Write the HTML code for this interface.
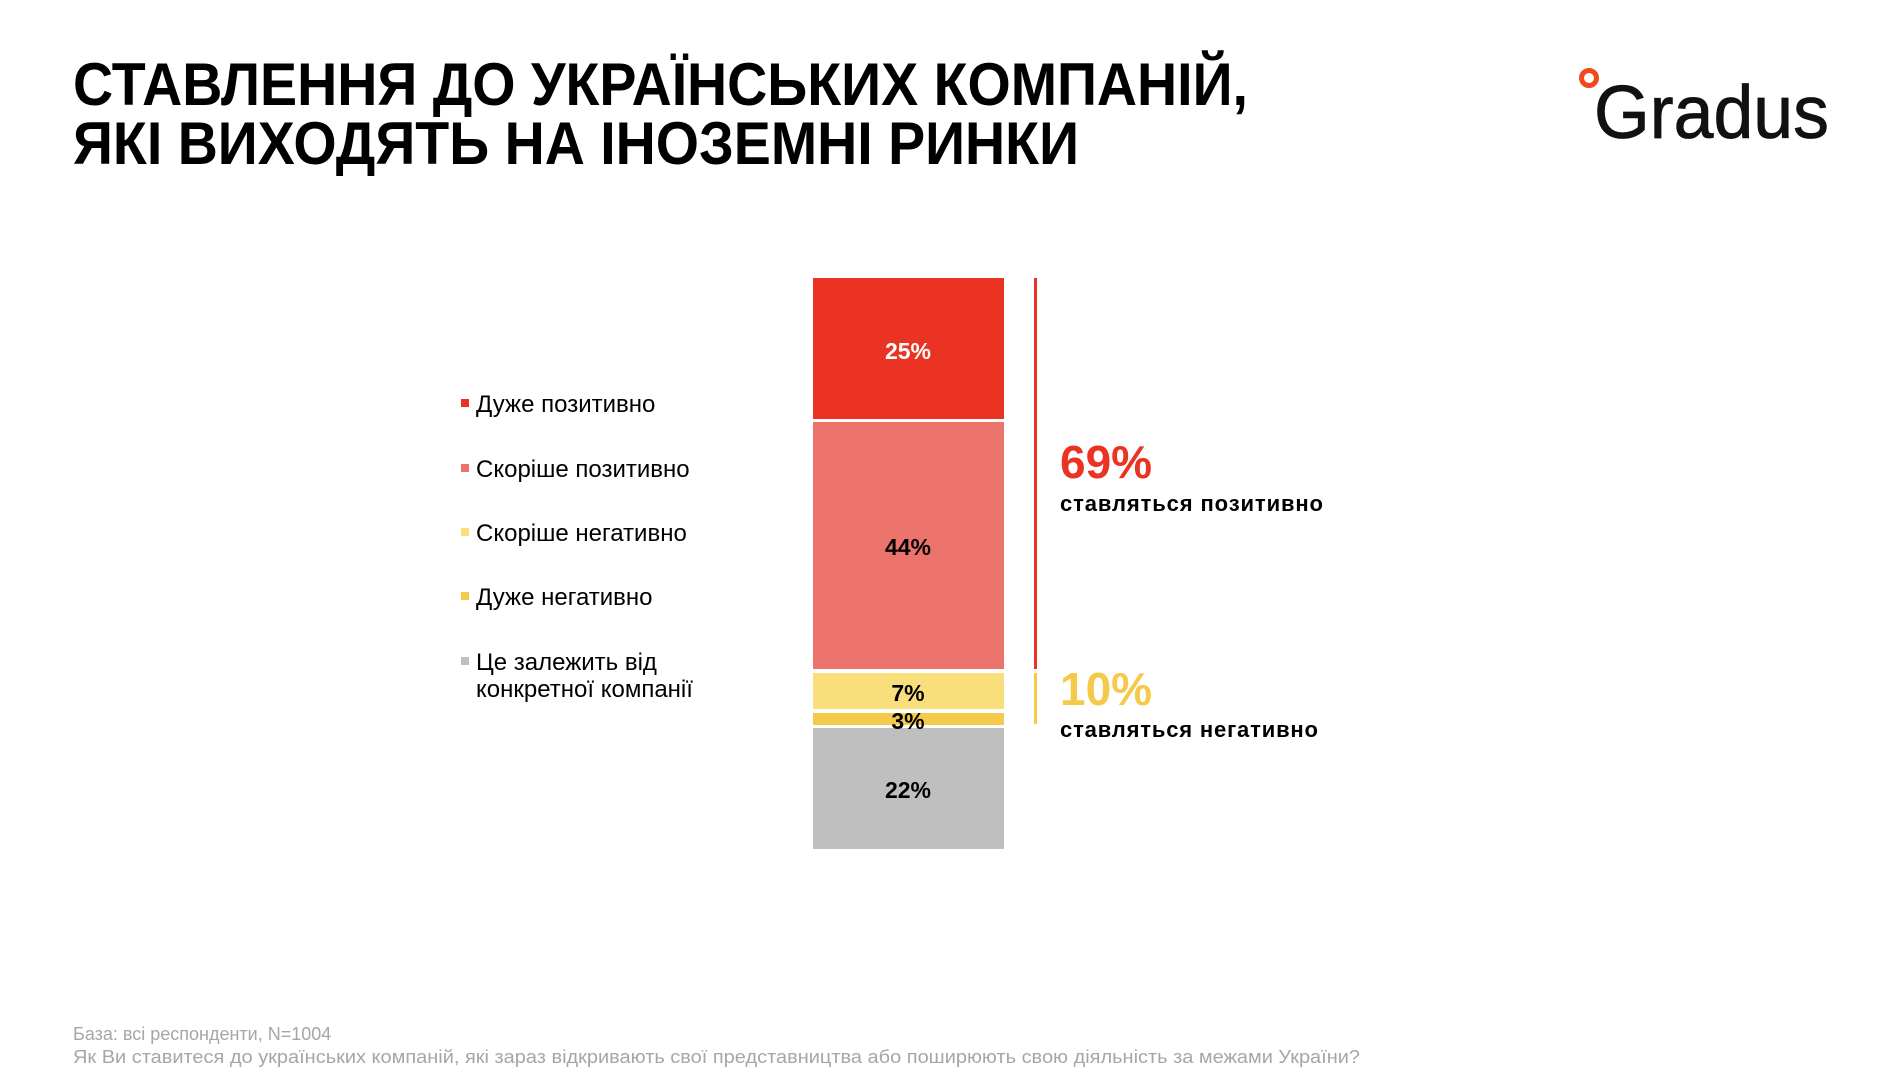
<!DOCTYPE html>
<html><head><meta charset="utf-8"><style>
html,body{margin:0;padding:0;background:#fff;width:1900px;height:1070px;overflow:hidden}
svg{display:block}
text{font-family:"Liberation Sans",Arial,sans-serif}
</style></head><body>
<svg width="1900" height="1070" viewBox="0 0 1900 1070" xmlns="http://www.w3.org/2000/svg">
<text x="73" y="105" font-size="60" font-weight="bold" fill="#000" textLength="1175" lengthAdjust="spacingAndGlyphs">СТАВЛЕННЯ ДО УКРАЇНСЬКИХ КОМПАНІЙ,</text>
<text x="73" y="164" font-size="60" font-weight="bold" fill="#000" textLength="1006" lengthAdjust="spacingAndGlyphs">ЯКІ ВИХОДЯТЬ НА ІНОЗЕМНІ РИНКИ</text>
<circle cx="1589" cy="78" r="7.5" fill="none" stroke="#f04a1c" stroke-width="5"/>
<text x="1594" y="138" font-size="75" fill="#111" stroke="#111" stroke-width="0.8" textLength="235" lengthAdjust="spacingAndGlyphs">Gradus</text>
<rect x="813" y="278" width="191" height="141" fill="#ea3323"/>
<rect x="813" y="422" width="191" height="247" fill="#ec726c"/>
<rect x="813" y="673" width="191" height="36" fill="#f9de7c"/>
<rect x="813" y="713" width="191" height="12" fill="#f5c94a"/>
<rect x="813" y="728" width="191" height="121" fill="#bfbfbf"/>
<g font-size="23" font-weight="bold" text-anchor="middle">
<text x="908" y="359" fill="#fff">25%</text>
<text x="908" y="555" fill="#000">44%</text>
<text x="908" y="701" fill="#000">7%</text>
<text x="908" y="729" fill="#000">3%</text>
<text x="908" y="798" fill="#000">22%</text>
</g>
<rect x="1034" y="278" width="3" height="391" fill="#ea3323"/>
<rect x="1034" y="673" width="3" height="51" fill="#f5c94a"/>
<text x="1060" y="478" font-size="46" font-weight="bold" fill="#ea3323">69%</text>
<text x="1060" y="511" font-size="22" font-weight="bold" fill="#000" textLength="263" lengthAdjust="spacing">ставляться позитивно</text>
<text x="1060" y="705" font-size="46" font-weight="bold" fill="#f5c94a">10%</text>
<text x="1060" y="737" font-size="22" font-weight="bold" fill="#000" textLength="258" lengthAdjust="spacing">ставляться негативно</text>
<g font-size="24" fill="#000">
<rect x="461" y="399" width="8" height="8" fill="#ea3323"/><text x="476" y="412">Дуже позитивно</text>
<rect x="461" y="464" width="8" height="8" fill="#ec726c"/><text x="476" y="477">Скоріше позитивно</text>
<rect x="461" y="528" width="8" height="8" fill="#f9de7c"/><text x="476" y="541">Скоріше негативно</text>
<rect x="461" y="592" width="8" height="8" fill="#f5c94a"/><text x="476" y="605">Дуже негативно</text>
<rect x="461" y="657" width="8" height="8" fill="#bfbfbf"/><text x="476" y="670">Це залежить від</text>
<text x="476" y="697">конкретної компанії</text>
</g>
<text x="73" y="1040" font-size="18" fill="#a6a6a6">База: всі респонденти, N=1004</text>
<text x="73" y="1063" font-size="18" fill="#a6a6a6" textLength="1287" lengthAdjust="spacingAndGlyphs">Як Ви ставитеся до українських компаній, які зараз відкривають свої представництва або поширюють свою діяльність за межами України?</text>
</svg>
</body></html>
